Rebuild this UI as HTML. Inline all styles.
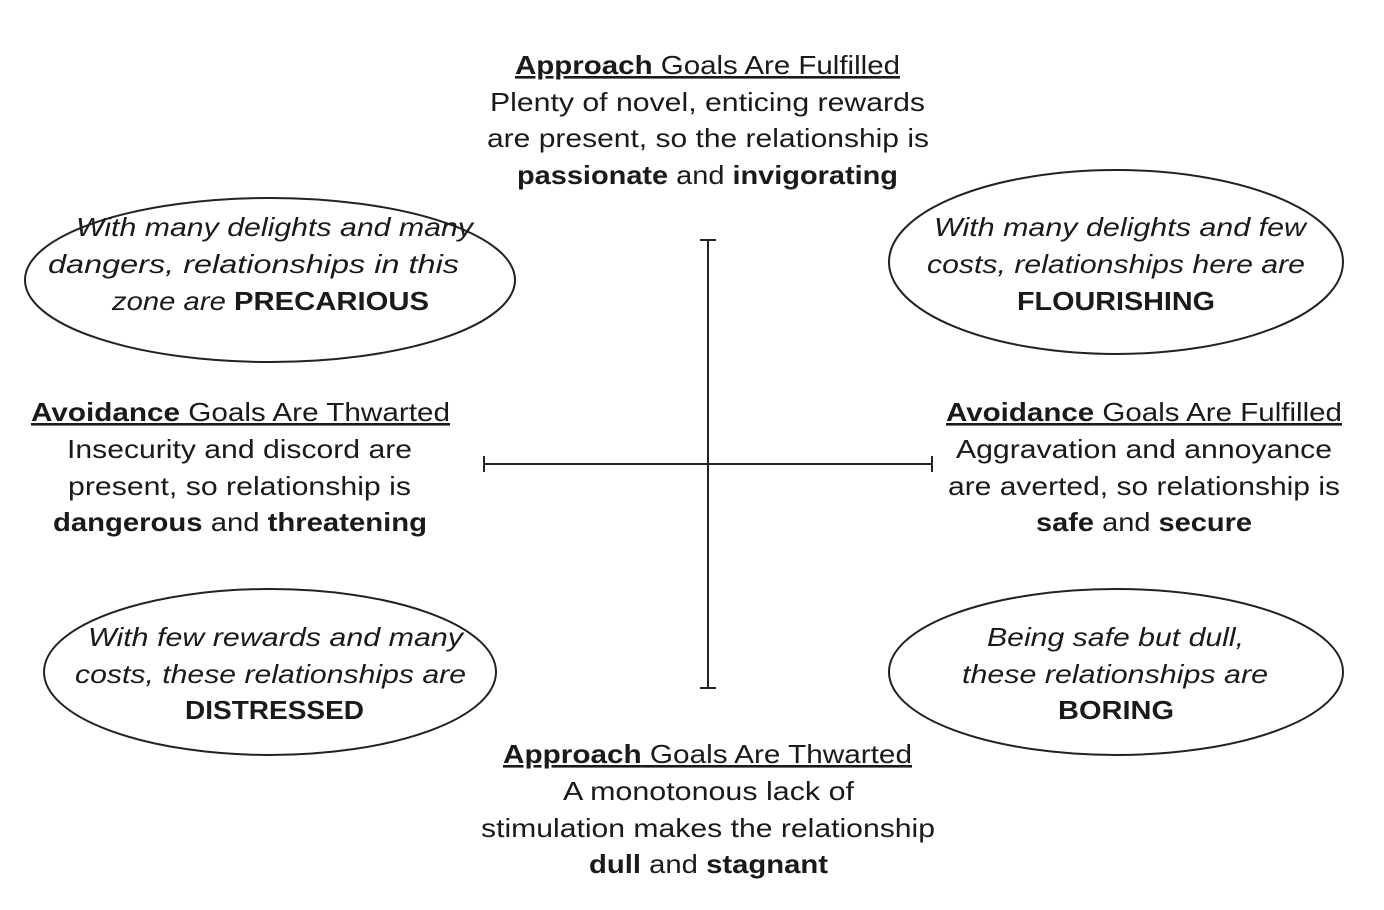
<!DOCTYPE html>
<html><head><meta charset="utf-8"><style>
html,body{margin:0;padding:0;background:#fff;}
svg{display:block;}
text{font-family:"Liberation Sans",sans-serif;font-size:26px;fill:#1a1a1a;text-anchor:middle;}
.b{font-weight:bold;}
.i{font-style:italic;}
.u{text-decoration:underline;}
</style></head><body>
<svg width="1384" height="910" viewBox="0 0 1384 910">
<g fill="none" stroke="#222" stroke-width="2">
<ellipse cx="270" cy="280" rx="245" ry="82"/>
<ellipse cx="1116" cy="262" rx="227" ry="92"/>
<ellipse cx="270" cy="672" rx="226" ry="83"/>
<ellipse cx="1116" cy="672" rx="227" ry="83"/>
<line x1="708" y1="240" x2="708" y2="688"/>
<line x1="700" y1="240" x2="716" y2="240"/>
<line x1="700" y1="688" x2="716" y2="688"/>
<line x1="484" y1="464" x2="932" y2="464"/>
<line x1="484" y1="456" x2="484" y2="472"/>
<line x1="932" y1="456" x2="932" y2="472"/>
</g>
<g lengthAdjust="spacingAndGlyphs">
<text x="707.5" y="74" class="u" textLength="385" lengthAdjust="spacingAndGlyphs"><tspan class="b">Approach</tspan> Goals Are Fulfilled</text>
<text x="707.5" y="111" textLength="435" lengthAdjust="spacingAndGlyphs">Plenty of novel, enticing rewards</text>
<text x="708" y="147" textLength="442" lengthAdjust="spacingAndGlyphs">are present, so the relationship is</text>
<text x="707.5" y="184" textLength="381" lengthAdjust="spacingAndGlyphs"><tspan class="b">passionate</tspan> and <tspan class="b">invigorating</tspan></text>

<text x="240.5" y="421" class="u" textLength="419" lengthAdjust="spacingAndGlyphs"><tspan class="b">Avoidance</tspan> Goals Are Thwarted</text>
<text x="239.5" y="458" textLength="345" lengthAdjust="spacingAndGlyphs">Insecurity and discord are</text>
<text x="239.5" y="495" textLength="343" lengthAdjust="spacingAndGlyphs">present, so relationship is</text>
<text x="240" y="531" textLength="374" lengthAdjust="spacingAndGlyphs"><tspan class="b">dangerous</tspan> and <tspan class="b">threatening</tspan></text>

<text x="1144" y="421" class="u" textLength="396" lengthAdjust="spacingAndGlyphs"><tspan class="b">Avoidance</tspan> Goals Are Fulfilled</text>
<text x="1144" y="458" textLength="376" lengthAdjust="spacingAndGlyphs">Aggravation and annoyance</text>
<text x="1144" y="495" textLength="392" lengthAdjust="spacingAndGlyphs">are averted, so relationship is</text>
<text x="1144" y="531" textLength="216" lengthAdjust="spacingAndGlyphs"><tspan class="b">safe</tspan> and <tspan class="b">secure</tspan></text>

<text x="707.5" y="763" class="u" textLength="409" lengthAdjust="spacingAndGlyphs"><tspan class="b">Approach</tspan> Goals Are Thwarted</text>
<text x="708.5" y="800" textLength="291" lengthAdjust="spacingAndGlyphs">A monotonous lack of</text>
<text x="708" y="837" textLength="454" lengthAdjust="spacingAndGlyphs">stimulation makes the relationship</text>
<text x="708.5" y="873" textLength="239" lengthAdjust="spacingAndGlyphs"><tspan class="b">dull</tspan> and <tspan class="b">stagnant</tspan></text>

<text x="274.5" y="236" class="i" textLength="397" lengthAdjust="spacingAndGlyphs">With many delights and many</text>
<text x="253.5" y="273" class="i" textLength="411" lengthAdjust="spacingAndGlyphs">dangers, relationships in this</text>
<text x="270.5" y="310" textLength="317" lengthAdjust="spacingAndGlyphs"><tspan class="i">zone are </tspan><tspan class="b">PRECARIOUS</tspan></text>

<text x="1120" y="236" class="i" textLength="372" lengthAdjust="spacingAndGlyphs">With many delights and few</text>
<text x="1116" y="273" class="i" textLength="378" lengthAdjust="spacingAndGlyphs">costs, relationships here are</text>
<text x="1116" y="310" class="b" textLength="198" lengthAdjust="spacingAndGlyphs">FLOURISHING</text>

<text x="275.5" y="646" class="i" textLength="375" lengthAdjust="spacingAndGlyphs">With few rewards and many</text>
<text x="270.5" y="683" class="i" textLength="391" lengthAdjust="spacingAndGlyphs">costs, these relationships are</text>
<text x="274.5" y="719" class="b" textLength="179" lengthAdjust="spacingAndGlyphs">DISTRESSED</text>

<text x="1115.5" y="646" class="i" textLength="257" lengthAdjust="spacingAndGlyphs">Being safe but dull,</text>
<text x="1115" y="683" class="i" textLength="306" lengthAdjust="spacingAndGlyphs">these relationships are</text>
<text x="1116" y="719" class="b" textLength="116" lengthAdjust="spacingAndGlyphs">BORING</text>
</g>
</svg>
</body></html>
